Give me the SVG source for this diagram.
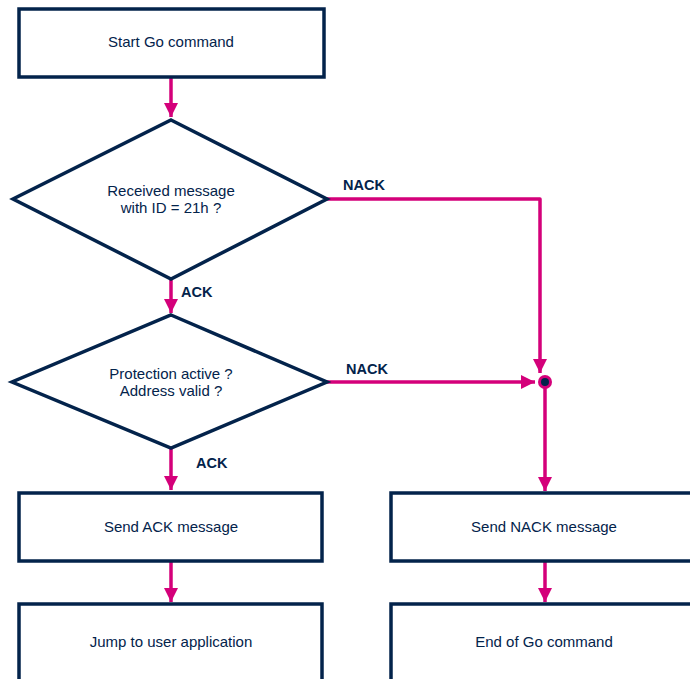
<svg xmlns="http://www.w3.org/2000/svg" width="690" height="679" viewBox="0 0 690 679">
<defs>
<style>
.box{fill:#fff;stroke:#03234B;stroke-width:3.5}
.t{font-family:"Liberation Sans",Arial,sans-serif;font-size:15px;fill:#03234B;text-anchor:middle}
.lb{font-family:"Liberation Sans",Arial,sans-serif;font-size:14.5px;font-weight:bold;fill:#03234B}
.c{fill:none;stroke:#D4007A;stroke-width:3.5;stroke-linejoin:round}
</style>
<marker id="ah" markerWidth="4" markerHeight="4" refX="4" refY="2" orient="auto" markerUnits="strokeWidth">
<path d="M0,0 L4,2 L0,4 Z" fill="#D4007A"/>
</marker>
</defs>
<rect width="690" height="679" fill="#fff"/>
<g id="connectors">
<path class="c" d="M171,77 V117" marker-end="url(#ah)"/>
<path class="c" d="M171,279 V313" marker-end="url(#ah)"/>
<path class="c" d="M171,448 V490" marker-end="url(#ah)"/>
<path class="c" d="M171,561 V602" marker-end="url(#ah)"/>
<path class="c" d="M327,199 H540 V373" marker-end="url(#ah)"/>
<path class="c" d="M327,382 H535" marker-end="url(#ah)"/>
<path class="c" d="M545,382 V491" marker-end="url(#ah)"/>
<path class="c" d="M545,561 V602" marker-end="url(#ah)"/>
<circle cx="545" cy="382" r="7" fill="#D4007A"/>
<circle cx="545" cy="382" r="4" fill="#03234B"/>
<text class="lb" x="181" y="297">ACK</text>
<text class="lb" x="196" y="468">ACK</text>
<text class="lb" x="343" y="190">NACK</text>
<text class="lb" x="346" y="374">NACK</text>
</g>
<g id="start">
<rect class="box" x="19" y="9" width="305" height="68"/>
<text class="t" x="171" y="47">Start Go command</text>
</g>
<g id="check-id">
<polygon class="box" points="171,120 327,199 171,279 13,199"/>
<text class="t" x="171" y="196">Received message</text>
<text class="t" x="171" y="213">with ID = 21h ?</text>
</g>
<g id="check-protection">
<polygon class="box" points="171,315 327,382 171,448 12,382"/>
<text class="t" x="171" y="379">Protection active ?</text>
<text class="t" x="171" y="396">Address valid ?</text>
</g>
<g id="send-ack">
<rect class="box" x="19" y="493" width="303" height="68"/>
<text class="t" x="171" y="532">Send ACK message</text>
</g>
<g id="jump">
<rect class="box" x="19" y="604" width="303" height="90"/>
<text class="t" x="171" y="647">Jump to user application</text>
</g>
<g id="send-nack">
<rect class="box" x="391" y="493" width="306" height="68"/>
<text class="t" x="544" y="532">Send NACK message</text>
</g>
<g id="end">
<rect class="box" x="391" y="604" width="306" height="90"/>
<text class="t" x="544" y="647">End of Go command</text>
</g>
</svg>
